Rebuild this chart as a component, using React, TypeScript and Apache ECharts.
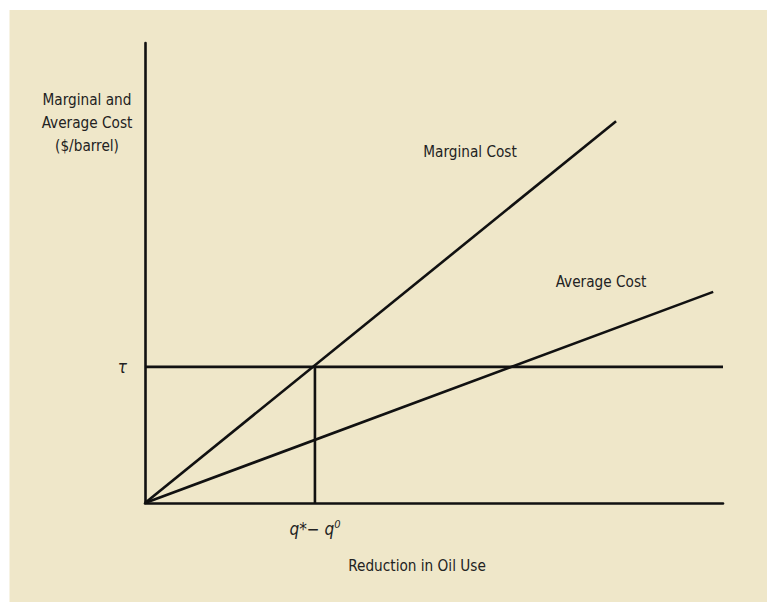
import { useEffect, useRef } from "react";
import * as echarts from "echarts";

// Values (axis units 0–100 on both axes)
const tau = 29.6;
const qStar = 29.4;
const marginalCost: number[][] = [[0, 0], [81.5, 83]];
const averageCost: number[][] = [[0, 0], [98.3, 45.9]];
const tauLine: number[][] = [[0, tau], [100, tau]];
const qLine: number[][] = [[qStar, 0], [qStar, tau]];
const yTickLabel = "τ";
const xTickLabelMain = "q*− q";
const xTickLabelSup = "0";
const yTitle = ["Marginal and", "Average Cost", "($/barrel)"];
const xTitle = "Reduction in Oil Use";
const seriesNames = ["Marginal Cost", "Average Cost"];

const FONT = '"Liberation Sans Narrow", "DejaVu Sans Condensed", "Noto Sans", sans-serif';
const INK = "#111";
const TXT = "#222";
const FS = 15.2;

export default function App() {
  const ref = useRef<HTMLDivElement>(null);
  useEffect(() => {
    if (!ref.current) return;
    const chart = echarts.init(ref.current, undefined, { renderer: "svg" });
    const lineSeries = (name: string, data: number[][]) => ({
      type: "line",
      name,
      data,
      symbol: "none",
      silent: true,
      lineStyle: { color: INK, width: 2.6 },
      z: 3,
    });
    chart.setOption({
      animation: false,
      backgroundColor: "#ffffff",
      textStyle: { fontFamily: FONT },
      graphic: [
        {
          type: "rect",
          z: -10,
          silent: true,
          shape: { x: 9.5, y: 10, width: 760, height: 594 },
          style: { fill: "#efe7c9" },
        },
        {
          type: "text",
          x: 87,
          y: 123,
          style: {
            text: yTitle.join("\n"),
            fontFamily: FONT,
            fontSize: FS,
            lineHeight: 23,
            fill: TXT,
            align: "center",
            verticalAlign: "middle",
          },
        },
        {
          type: "text",
          x: 470,
          y: 152,
          style: { text: seriesNames[0], fontFamily: FONT, fontSize: FS, fill: TXT, align: "center", verticalAlign: "middle" },
        },
        {
          type: "text",
          x: 601,
          y: 282,
          style: { text: seriesNames[1], fontFamily: FONT, fontSize: FS, fill: TXT, align: "center", verticalAlign: "middle" },
        },
        {
          type: "text",
          x: 417,
          y: 566,
          style: { text: xTitle, fontFamily: FONT, fontSize: FS, fill: TXT, align: "center", verticalAlign: "middle" },
        },
      ],
      grid: { left: 145, top: 43, right: 44, bottom: 99, containLabel: false },
      xAxis: {
        type: "value",
        min: 0,
        max: 100,
        splitLine: { show: false },
        axisTick: { show: false },
        axisLine: { show: true, onZero: false, lineStyle: { color: INK, width: 2.6 } },
        axisLabel: {
          show: true,
          customValues: [qStar],
          margin: 16,
          formatter: () => `{m|${xTickLabelMain}}{s|${xTickLabelSup}}`,
          rich: {
            m: { fontFamily: FONT, fontSize: 17, fontStyle: "italic", color: TXT },
            s: { fontFamily: FONT, fontSize: 11, fontStyle: "italic", color: TXT, verticalAlign: "top", padding: [0, 0, 8, 0] },
          },
        },
      },
      yAxis: {
        type: "value",
        min: 0,
        max: 100,
        splitLine: { show: false },
        axisTick: { show: false },
        axisLine: { show: true, onZero: false, lineStyle: { color: INK, width: 2.6 } },
        axisLabel: {
          show: true,
          customValues: [tau],
          margin: 18,
          formatter: () => yTickLabel,
          fontFamily: FONT,
          fontSize: 17,
          fontStyle: "italic",
          color: TXT,
        },
      },
      series: [
        lineSeries(seriesNames[0], marginalCost),
        lineSeries(seriesNames[1], averageCost),
        lineSeries("tau", tauLine),
        lineSeries("q", qLine),
      ],
    });
    return () => chart.dispose();
  }, []);
  return <div ref={ref} style={{ position: "fixed", left: 0, top: 0, width: 767, height: 602 }} />;
}
